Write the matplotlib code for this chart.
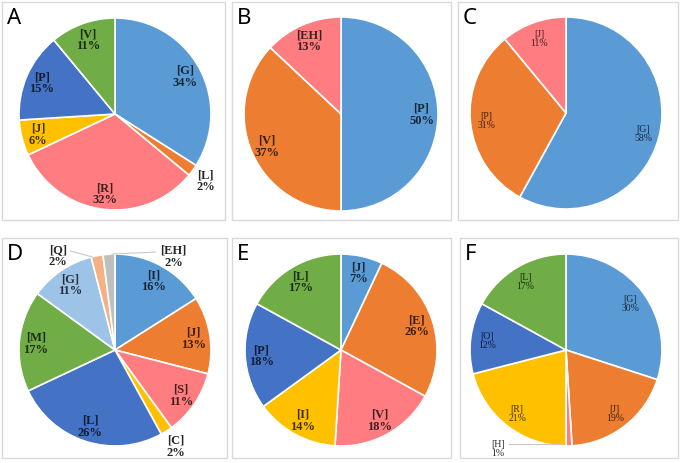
import matplotlib.pyplot as plt
from matplotlib.patches import Rectangle
import matplotlib.colors as mcolors
import numpy as np

# Canvas size in pixels
W, H = 685, 464

# Office-style palette
BLUE = "#5B9BD5"
ORANGE = "#ED7D31"
PINK = "#FF7C80"
YELLOW = "#FFC000"
NAVY = "#4472C4"
GREEN = "#70AD47"
LIGHTBLUE = "#9DC3E6"
SALMON = "#F4B183"
GREY = "#BFBFBF"

# Data for each panel
a_labels = ["G", "L", "R", "J", "P", "V"]
a_values = [34, 2, 32, 6, 15, 11]
a_colors = [BLUE, ORANGE, PINK, YELLOW, NAVY, GREEN]

b_labels = ["P", "V", "EH"]
b_values = [50, 37, 13]
b_colors = [BLUE, ORANGE, PINK]

c_labels = ["G", "P", "J"]
c_values = [58, 31, 11]
c_colors = [BLUE, ORANGE, PINK]

d_labels = ["I", "J", "S", "C", "L", "M", "G", "Q", "EH"]
d_values = [16, 13, 11, 2, 26, 17, 11, 2, 2]
d_colors = [BLUE, ORANGE, PINK, YELLOW, NAVY, GREEN, LIGHTBLUE, SALMON, GREY]

e_labels = ["J", "E", "V", "I", "P", "L"]
e_values = [7, 26, 18, 14, 18, 17]
e_colors = [BLUE, ORANGE, PINK, YELLOW, NAVY, GREEN]

f_labels = ["G", "J", "H", "R", "O", "L"]
f_values = [30, 19, 1, 21, 12, 17]
f_colors = [BLUE, ORANGE, PINK, YELLOW, NAVY, GREEN]

# panel layout: letter, frame box (px), pie centre + radius (px), label style
PANELS = [
    dict(letter="A", labels=a_labels, values=a_values, colors=a_colors,
         box=(2, 3, 225, 221), center=(115, 115), r=96, size=9, weight="bold",
         outside={"L": 1.17}),
    dict(letter="B", labels=b_labels, values=b_values, colors=b_colors,
         box=(232, 3, 451, 221), center=(341, 115), r=97, size=9, weight="bold",
         outside={}),
    dict(letter="C", labels=c_labels, values=c_values, colors=c_colors,
         box=(458, 3, 678, 221), center=(566, 114), r=96, size=7, weight="normal",
         outside={}),
    dict(letter="D", labels=d_labels, values=d_values, colors=d_colors,
         box=(2, 239, 227, 459), center=(115, 351), r=96, size=9, weight="bold",
         outside={"C": 1.18}),
    dict(letter="E", labels=e_labels, values=e_values, colors=e_colors,
         box=(232, 239, 451, 459), center=(341, 351), r=96, size=9, weight="bold",
         outside={}),
    dict(letter="F", labels=f_labels, values=f_values, colors=f_colors,
         box=(460, 239, 678, 459), center=(566, 351), r=96, size=7, weight="normal",
         outside={}),
]

# callout labels with leader lines: (panel, label) -> text pos, line start, line end (radius units)
CALLOUTS = {
    ("D", "Q"): ((-0.59, 0.99), (-0.46, 1.03), (-0.24, 0.97)),
    ("D", "EH"): ((0.61, 0.98), (0.42, 1.02), (-0.03, 1.0)),
    ("F", "H"): ((-0.71, -1.02), (-0.59, -0.98), (-0.04, -0.98)),
}

SERIF = "Liberation Serif"

fig = plt.figure(figsize=(W / 100, H / 100), dpi=100)
fig.patch.set_facecolor("white")

for p in PANELS:
    x0, y0, x1, y1 = p["box"]
    fig.add_artist(Rectangle((x0 / W, 1 - y1 / H), (x1 - x0) / W, (y1 - y0) / H,
                             transform=fig.transFigure, fill=False,
                             edgecolor="#d9d9d9", linewidth=1))
    fig.text((x0 + 5) / W, 1 - (y0 + 5) / H, p["letter"], fontsize=16,
             family="Noto Sans", ha="left", va="top", color="black")

    cx, cy, r = p["center"][0], p["center"][1], p["r"]
    ax = fig.add_axes([(cx - r) / W, 1 - (cy + r) / H, 2 * r / W, 2 * r / H])
    wedges, _ = ax.pie(p["values"], colors=p["colors"], startangle=90,
                       counterclock=False, radius=1,
                       wedgeprops=dict(edgecolor="white", linewidth=1.2))
    ax.set_xlim(-1, 1)
    ax.set_ylim(-1, 1)
    ax.set_aspect("equal")
    ax.axis("off")

    for w, lab, val, col in zip(wedges, p["labels"], p["values"], p["colors"]):
        txt = f"[{lab}]\n{val}%"
        key = (p["letter"], lab)
        if key in CALLOUTS:
            tpos, ls, le = CALLOUTS[key]
            ax.plot([ls[0], le[0]], [ls[1], le[1]], color="#c8c8c8", lw=0.8,
                    clip_on=False)
            ax.text(tpos[0], tpos[1], txt, ha="center", va="center",
                    fontsize=p["size"], fontweight=p["weight"], family=SERIF,
                    color="#262626", linespacing=1.0)
            continue
        mid = np.deg2rad((w.theta1 + w.theta2) / 2)
        d = p["outside"].get(lab, 0.83)
        tc = "#262626" if lab in p["outside"] else np.array(mcolors.to_rgb(col)) * 0.25
        ax.text(d * np.cos(mid), d * np.sin(mid), txt, ha="center", va="center",
                fontsize=p["size"], fontweight=p["weight"], family=SERIF,
                color=tc, linespacing=1.0)

fig.savefig("out.png", dpi=100)
